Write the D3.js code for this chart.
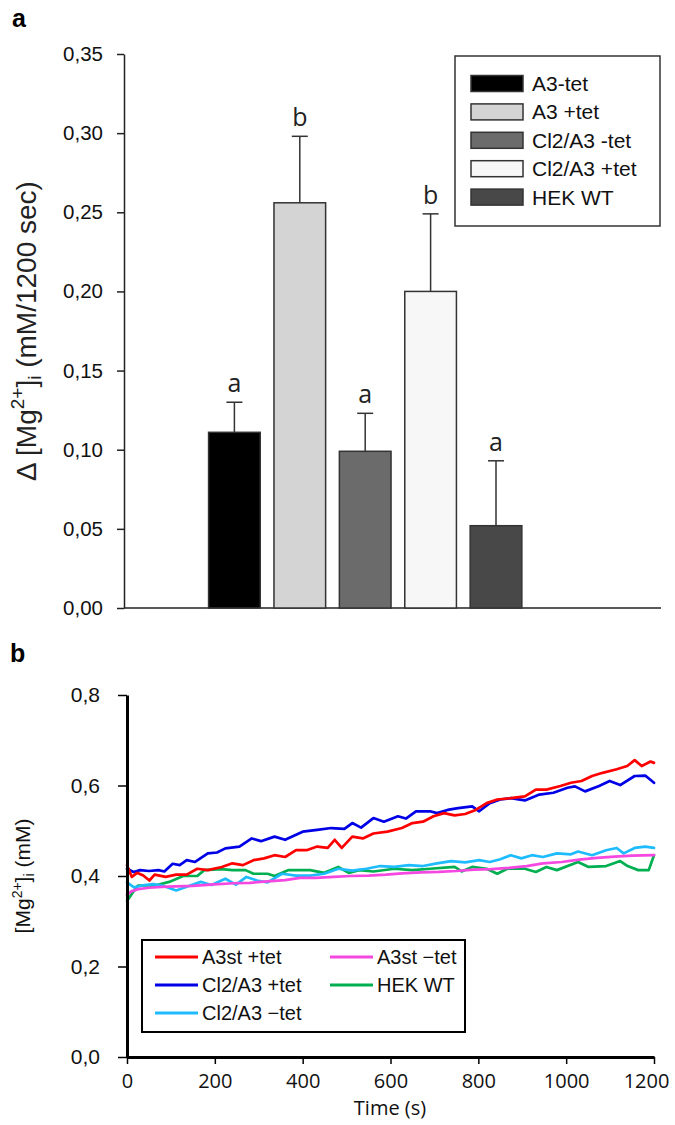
<!DOCTYPE html>
<html><head><meta charset="utf-8">
<script src="https://cdn.jsdelivr.net/npm/d3@7"></script>
<style>body{margin:0;background:#fff} svg{display:block}</style>
</head><body>
<svg id="c" width="675" height="1125"></svg>
<script>
// ---------- Panel a data ----------
const barCategories = ["A3-tet", "A3 +tet", "Cl2/A3 -tet", "Cl2/A3 +tet", "HEK WT"];
const barMeans = [0.111, 0.256, 0.099, 0.200, 0.052];
const barErrors = [0.019, 0.042, 0.024, 0.049, 0.041];
const barLetters = ["a", "b", "a", "b", "a"];
const barColors = ["#000000", "#d4d4d4", "#6b6b6b", "#f7f7f7", "#484848"];
const yTicksA = [0, 0.05, 0.10, 0.15, 0.20, 0.25, 0.30, 0.35];

// ---------- Panel b data ----------
const xTicksB = [0, 200, 400, 600, 800, 1000, 1200];
const yTicksB = [0, 0.2, 0.4, 0.6, 0.8];
const a3stPlusTet = [[0,0.424],[11,0.398],[23,0.407],[37,0.401],[51,0.390],[63,0.403],[88,0.398],[112,0.403],[136,0.403],[160,0.416],[184,0.413],[216,0.420],[240,0.428],[264,0.424],[288,0.435],[312,0.439],[336,0.446],[360,0.442],[385,0.457],[409,0.457],[433,0.465],[457,0.462],[473,0.480],[489,0.462],[513,0.487],[537,0.483],[561,0.494],[593,0.498],[626,0.506],[650,0.517],[674,0.520],[698,0.532],[722,0.539],[746,0.534],[770,0.537],[794,0.546],[819,0.561],[843,0.569],[874,0.572],[906,0.576],[931,0.591],[955,0.591],[987,0.599],[1011,0.606],[1035,0.610],[1059,0.621],[1083,0.628],[1115,0.636],[1139,0.643],[1156,0.656],[1172,0.643],[1192,0.653],[1200,0.650]];
const cl2PlusTet = [[0,0.416],[15,0.409],[30,0.413],[50,0.411],[72,0.413],[85,0.410],[104,0.427],[120,0.424],[136,0.435],[155,0.431],[184,0.450],[205,0.452],[224,0.461],[256,0.465],[284,0.483],[305,0.477],[336,0.487],[360,0.480],[400,0.498],[433,0.502],[465,0.506],[495,0.504],[513,0.517],[533,0.507],[561,0.528],[585,0.520],[617,0.532],[635,0.527],[658,0.543],[690,0.543],[706,0.539],[730,0.546],[754,0.550],[786,0.554],[802,0.543],[826,0.561],[850,0.569],[874,0.572],[906,0.567],[939,0.580],[971,0.584],[1003,0.595],[1020,0.598],[1043,0.587],[1075,0.599],[1099,0.610],[1123,0.601],[1156,0.621],[1180,0.622],[1200,0.606]];
const cl2MinusTet = [[0,0.386],[16,0.375],[40,0.380],[60,0.382],[80,0.379],[112,0.368],[144,0.379],[168,0.387],[192,0.380],[224,0.394],[248,0.381],[272,0.398],[296,0.390],[320,0.386],[353,0.405],[385,0.401],[417,0.401],[449,0.405],[481,0.416],[513,0.412],[545,0.416],[577,0.422],[609,0.420],[642,0.424],[674,0.422],[706,0.428],[738,0.433],[770,0.430],[802,0.435],[826,0.431],[850,0.437],[874,0.446],[898,0.439],[922,0.446],[947,0.442],[979,0.450],[1011,0.448],[1027,0.454],[1059,0.446],[1091,0.457],[1115,0.462],[1131,0.450],[1156,0.462],[1180,0.465],[1200,0.462]];
const a3stMinusTet = [[0,0.358],[10,0.366],[25,0.371],[50,0.374],[80,0.376],[110,0.377],[150,0.378],[190,0.381],[242,0.384],[280,0.385],[320,0.388],[360,0.391],[394,0.396],[430,0.396],[470,0.398],[510,0.400],[550,0.401],[590,0.403],[626,0.406],[670,0.408],[710,0.409],[750,0.411],[790,0.414],[830,0.415],[870,0.418],[910,0.422],[947,0.428],[990,0.431],[1030,0.436],[1070,0.440],[1110,0.443],[1150,0.445],[1200,0.446]];
const hekWT = [[0,0.345],[12,0.362],[25,0.379],[64,0.379],[96,0.387],[128,0.400],[160,0.400],[176,0.413],[216,0.415],[240,0.413],[270,0.413],[288,0.405],[320,0.405],[336,0.400],[368,0.413],[417,0.413],[449,0.407],[481,0.420],[505,0.407],[529,0.413],[561,0.410],[609,0.416],[650,0.413],[690,0.416],[746,0.420],[762,0.410],[786,0.420],[819,0.416],[843,0.405],[866,0.416],[906,0.416],[931,0.409],[955,0.420],[979,0.413],[1027,0.431],[1051,0.420],[1091,0.422],[1123,0.433],[1140,0.422],[1164,0.413],[1188,0.413],[1200,0.446]];

const seriesNames = ["A3st +tet", "Cl2/A3 +tet", "Cl2/A3 \u2212tet", "A3st \u2212tet", "HEK WT"];
const seriesData = [a3stPlusTet, cl2PlusTet, cl2MinusTet, a3stMinusTet, hekWT];
const seriesColors = ["#ff0000", "#0000e6", "#1ebcff", "#f548e0", "#00b050"];

// ---------- drawing ----------
const svg = d3.select("#c");
const loc = d3.formatLocale({decimal: ",", thousands: ".", grouping: [3], currency: ["", ""]});
const fmt2 = loc.format(".2f"), fmt1 = loc.format(".1f");
const ARIAL = "'Liberation Sans', Arial, sans-serif";
const SEGOE = "'Open Sans', 'Noto Sans', sans-serif";

// panel labels
svg.append("text").attr("x", 12).attr("y", 27).text("a")
  .attr("font-family", ARIAL).attr("font-weight", "bold").attr("font-size", 25);
svg.append("text").attr("x", 10).attr("y", 662).text("b")
  .attr("font-family", ARIAL).attr("font-weight", "bold").attr("font-size", 25);

// ===== Panel a =====
const yA = d3.scaleLinear().domain([0, 0.35]).range([608, 54]);
const xA = d3.scaleBand().domain(barCategories).range([201.7, 528.7]).paddingInner(0.21).paddingOuter(0.105);
const gA = svg.append("g");

const axA = gA.append("g").attr("transform", "translate(124,0)")
  .call(d3.axisLeft(yA).tickValues(yTicksA).tickFormat(fmt2).tickSize(7).tickSizeOuter(0).tickPadding(14));
axA.selectAll("path,line").attr("stroke", "#222").attr("stroke-width", 1.5);
axA.selectAll("text").attr("font-family", ARIAL).attr("font-size", 20.5).attr("fill", "#111");
// x baseline
gA.append("line").attr("x1", 124).attr("x2", 661).attr("y1", yA(0)).attr("y2", yA(0))
  .attr("stroke", "#222").attr("stroke-width", 1.5);

// y title
const tA = gA.append("text").attr("transform", `translate(36,${(yA(0) + yA(0.35)) / 2}) rotate(-90)`)
  .attr("text-anchor", "middle").attr("font-family", ARIAL).attr("font-size", 28).attr("fill", "#222");
tA.append("tspan").text("\u0394 [Mg");
tA.append("tspan").text("2+").attr("font-size", 19).attr("dy", -12);
tA.append("tspan").text("]").attr("dy", 12);
tA.append("tspan").text("i").attr("font-size", 19).attr("dy", 5);
tA.append("tspan").text(" (mM/1200 sec)").attr("dy", -5);

// bars
barCategories.forEach((c, i) => {
  const x = xA(c), w = xA.bandwidth(), cx = x + w / 2;
  gA.append("rect").attr("x", x).attr("y", yA(barMeans[i])).attr("width", w)
    .attr("height", yA(0) - yA(barMeans[i])).attr("fill", barColors[i])
    .attr("stroke", "#333").attr("stroke-width", 1.5);
  const top = yA(barMeans[i] + barErrors[i]);
  gA.append("line").attr("x1", cx).attr("x2", cx).attr("y1", yA(barMeans[i])).attr("y2", top)
    .attr("stroke", "#333").attr("stroke-width", 1.5);
  gA.append("line").attr("x1", cx - 8).attr("x2", cx + 8).attr("y1", top).attr("y2", top)
    .attr("stroke", "#333").attr("stroke-width", 1.5);
  gA.append("text").attr("x", cx).attr("y", top - 10).attr("text-anchor", "middle")
    .attr("font-family", SEGOE).attr("font-size", 25).attr("fill", "#222").text(barLetters[i]);
});

// legend a
gA.append("rect").attr("x", 455).attr("y", 56).attr("width", 205).attr("height", 170)
  .attr("fill", "#fff").attr("stroke", "#333").attr("stroke-width", 1.5);
barCategories.forEach((c, i) => {
  const yc = 83.5 + i * 28.4;
  gA.append("rect").attr("x", 471).attr("y", yc - 8).attr("width", 52).attr("height", 16)
    .attr("fill", barColors[i]).attr("stroke", "#333").attr("stroke-width", 1.5);
  gA.append("text").attr("x", 532).attr("y", yc).attr("dy", "0.36em")
    .attr("font-family", ARIAL).attr("font-size", 21).attr("fill", "#111").text(c);
});

// ===== Panel b =====
const xB = d3.scaleLinear().domain([0, 1200]).range([127, 654]);
const yB = d3.scaleLinear().domain([0, 0.8]).range([1057, 695]);
const gB = svg.append("g");

const line = d3.line().x(d => xB(d[0])).y(d => yB(d[1]));
const order = [4, 2, 3, 1, 0];
order.forEach(i => {
  gB.append("path").datum(seriesData[i]).attr("d", line).attr("fill", "none")
    .attr("stroke", seriesColors[i]).attr("stroke-width", 2.7)
    .attr("stroke-linejoin", "round").attr("stroke-linecap", "round");
});

const ayB = gB.append("g").attr("transform", "translate(127,0)")
  .call(d3.axisLeft(yB).tickValues(yTicksB).tickFormat(fmt1).tickSize(9).tickSizeOuter(0).tickPadding(18));
ayB.select(".domain").attr("stroke", "#000").attr("stroke-width", 3);
ayB.selectAll(".tick line").attr("stroke", "#000").attr("stroke-width", 1.5);
ayB.selectAll("text").attr("font-family", ARIAL).attr("font-size", 21).attr("fill", "#111");

const axB = gB.append("g").attr("transform", "translate(0,1057)")
  .call(d3.axisBottom(xB).tickValues(xTicksB).tickFormat(d3.format("d")).tickSize(7).tickSizeOuter(0));
axB.select(".domain").attr("stroke", "#000").attr("stroke-width", 3);
axB.selectAll(".tick line").attr("stroke", "#000").attr("stroke-width", 1.5);
axB.selectAll("text").attr("font-family", SEGOE).attr("font-size", 20).attr("fill", "#111")
  .attr("y", 24).attr("dy", "0.35em");
axB.selectAll("text").filter(d => d === 1200).attr("x", -8);

gB.append("text").attr("x", 390).attr("y", 1115).attr("text-anchor", "middle")
  .attr("font-family", SEGOE).attr("font-size", 20).attr("fill", "#111").text("Time (s)");

const tB = gB.append("text").attr("transform", `translate(30,${(yB(0) + yB(0.8)) / 2}) rotate(-90)`)
  .attr("text-anchor", "middle").attr("font-family", ARIAL).attr("font-size", 21).attr("fill", "#111");
tB.append("tspan").text("[Mg");
tB.append("tspan").text("2+").attr("font-size", 14).attr("dy", -8);
tB.append("tspan").text("]").attr("dy", 8);
tB.append("tspan").text("i").attr("font-size", 14).attr("dy", 4);
tB.append("tspan").text(" (mM)").attr("dy", -4);

// legend b
gB.append("rect").attr("x", 142).attr("y", 940).attr("width", 323).attr("height", 92)
  .attr("fill", "#fff").attr("stroke", "#000").attr("stroke-width", 2);
const legPos = [[155, 957], [155, 985], [155, 1013], [330, 957], [330, 985]];
seriesNames.forEach((n, i) => {
  const [lx, ly] = legPos[i];
  gB.append("line").attr("x1", lx).attr("x2", lx + 43).attr("y1", ly).attr("y2", ly)
    .attr("stroke", seriesColors[i]).attr("stroke-width", 3);
  gB.append("text").attr("x", lx + 47).attr("y", ly).attr("dy", "0.36em")
    .attr("font-family", ARIAL).attr("font-size", 20).attr("fill", "#111").text(n);
});
</script>
</body></html>
